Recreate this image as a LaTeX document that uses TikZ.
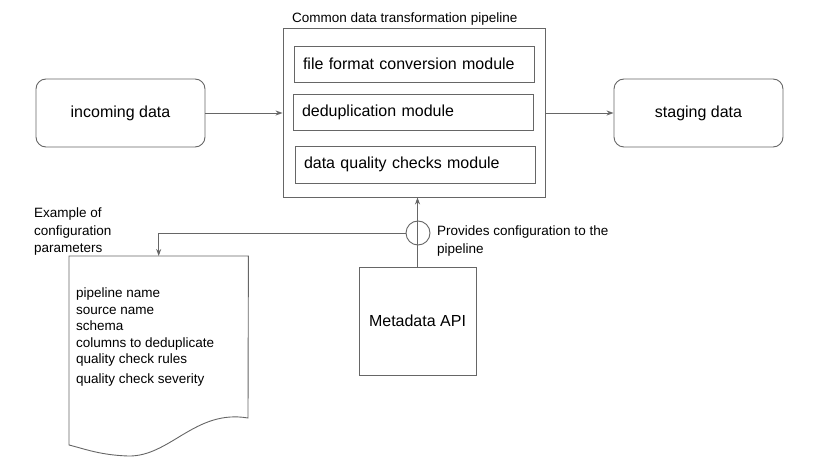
\documentclass[tikz,border=0pt]{standalone}
\usepackage{fontspec}
\setmainfont{Liberation Sans}
\usetikzlibrary{arrows.meta}
\tikzset{
  line/.style={draw=black!60,line width=0.9pt},
  arr/.style={line,-{Stealth[length=7pt,width=5pt]}},
  databox/.style={line,rounded corners=10pt,minimum width=169pt,minimum height=68pt,font=\fontsize{16}{19}\selectfont},
  modbox/.style={line,minimum width=240pt,minimum height=36pt,text width=222pt,align=left,font=\fontsize{16}{19}\selectfont},
  note/.style={inner sep=0pt,align=left,font=\fontsize{13.5}{17.5}\selectfont}
}
\begin{document}
\begin{tikzpicture}[x=1pt,y=-1pt]
  \useasboundingbox (0,0) rectangle (823,465);
  % data stores
  \node[databox] (incoming) at (120.5,113) {incoming data};
  \node[databox] (staging) at (698.5,113) {staging data};
  % pipeline and its modules
  \node[line,minimum width=262pt,minimum height=169pt] (pipe) at (414,112.5) {};
  \node[note,anchor=west] (pipetitle) at (292,19) {Common data transformation pipeline};
  \node[modbox] (convert) at (414,64) {file format conversion module};
  \node[modbox] (dedup) at (413,112) {deduplication module};
  \node[modbox,minimum height=37pt] (quality) at (415,164.5) {data quality checks module};
  % metadata
  \node[line,minimum width=117pt,minimum height=108pt,font=\fontsize{16}{19}\selectfont] (meta) at (417.5,321) {Metadata API};
  \node[line,circle,minimum size=24pt,inner sep=0pt] (ring) at (418,233) {};
  \node[note,anchor=west] (provides) at (437,241) {Provides configuration to the\\pipeline};
  % configuration document
  \node[minimum width=179pt,minimum height=189pt,anchor=north west,inner sep=0pt] (doc) at (69,256) {};
  \draw[line] (doc.north west) -- (doc.north east) -- (248,418)
    .. controls (195,409) and (170,457) .. (128,456)
    .. controls (100,455) and (85,449) .. (69,445) -- cycle;
  \node[note,anchor=north west,font=\fontsize{13.5}{16.5}\selectfont] (params) at (76,288)
    {pipeline name\\source name\\schema\\columns to deduplicate\\quality check rules\\[3pt]quality check severity};
  \node[note,anchor=west] (example) at (34,232) {Example of\\configuration\\parameters};
  % connectors
  \draw[arr] (incoming) -- (pipe.west |- incoming);
  \draw[arr] (pipe.east |- staging) -- (staging);
  \draw[arr] (meta.north) -- (meta.north |- pipe.south);
  \draw[arr] (ring.west) -| (doc.north);
\end{tikzpicture}
\end{document}
